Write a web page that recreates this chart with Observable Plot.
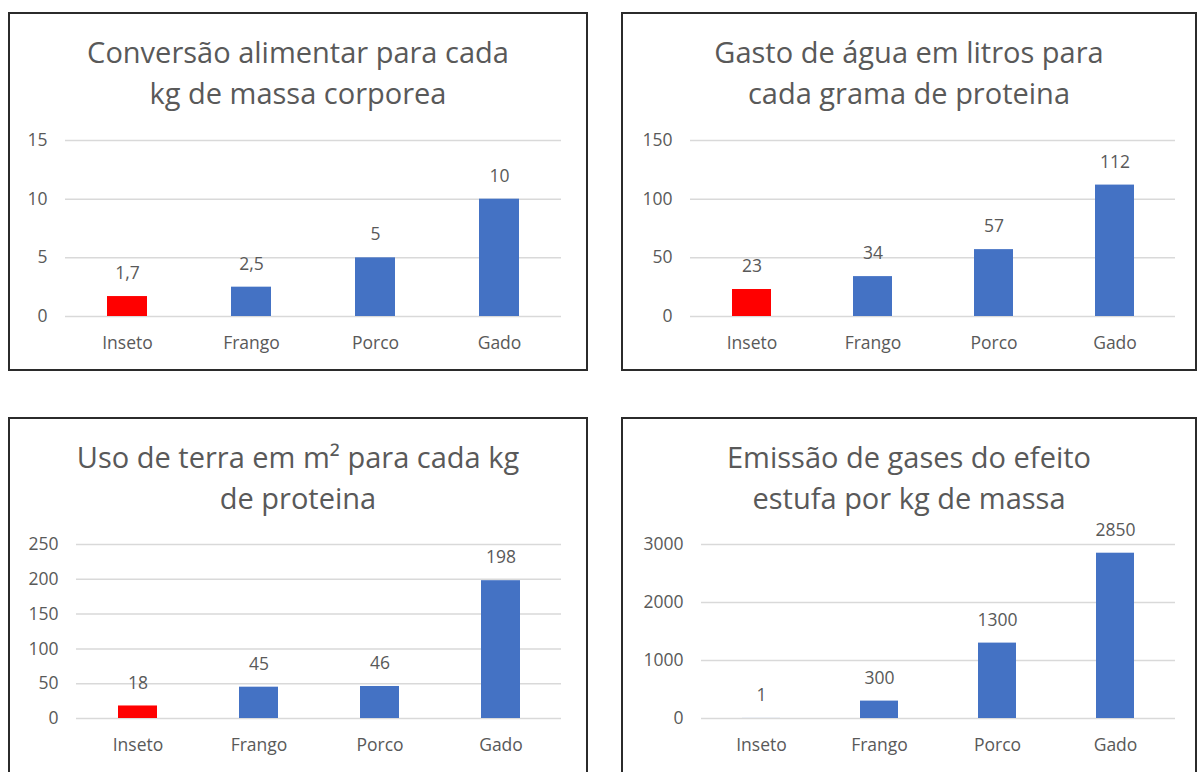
<!DOCTYPE html>
<html>
<head>
<meta charset="utf-8">
<script src="https://cdn.jsdelivr.net/npm/d3@7"></script>
<script src="https://cdn.jsdelivr.net/npm/@observablehq/plot@0.6"></script>
<style>
  html, body { margin: 0; padding: 0; background: #fff; }
  #root { position: relative; width: 1199px; height: 772px; overflow: hidden; background: #fff; font-family: "Open Sans", Lato, sans-serif; }
  .frame { position: absolute; border: 2px solid #2b2b2b; box-sizing: border-box; }
  .title { position: absolute; text-align: center; color: #595959; font-size: 29px; line-height: 41px; white-space: nowrap; }
  .plot { position: absolute; }
</style>
</head>
<body>
<div id="root"></div>
<script>
// ---- data ----
const categories = ["Inseto", "Frango", "Porco", "Gado"];
const conversao = [1.7, 2.5, 5, 10];
const agua = [23, 34, 57, 112];
const terra = [18, 45, 46, 198];
const emissao = [1, 300, 1300, 2850];
const ticksConversao = [0, 5, 10, 15];
const ticksAgua = [0, 50, 100, 150];
const ticksTerra = [0, 50, 100, 150, 200, 250];
const ticksEmissao = [0, 1000, 2000, 3000];
const titleConversao = ["Conversão alimentar para cada", "kg de massa corporea"];
const titleAgua = ["Gasto de água em litros para", "cada grama de proteina"];
const titleTerra = ["Uso de terra em m² para cada kg", "de proteina"];
const titleEmissao = ["Emissão de gases do efeito", "estufa por kg de massa"];
const highlightConversao = ["Inseto"];
const highlightAgua = ["Inseto"];
const highlightTerra = ["Inseto"];
const highlightEmissao = [];

const BLUE = "#4472C4", RED = "#FF0000", TEXT = "#595959", GRID = "#D9D9D9";
const FONT = "'Open Sans', Lato, sans-serif";

const panels = [
  {left: 8, top: 12, w: 580, h: 359, mL: 57, mR: 27, mT: 128, mB: 55, values: conversao, ticks: ticksConversao, title: titleConversao, hl: highlightConversao},
  {left: 621, top: 12, w: 576, h: 359, mL: 69, mR: 22, mT: 128, mB: 55, values: agua, ticks: ticksAgua, title: titleAgua, hl: highlightAgua},
  {left: 8, top: 417, w: 580, h: 360, mL: 68, mR: 27, mT: 127, mB: 59, values: terra, ticks: ticksTerra, title: titleTerra, hl: highlightTerra},
  {left: 621, top: 417, w: 576, h: 360, mL: 80, mR: 22, mT: 127, mB: 59, values: emissao, ticks: ticksEmissao, title: titleEmissao, hl: highlightEmissao}
];

const root = document.getElementById("root");
const fmt = v => String(v).replace(".", ",");

for (const p of panels) {
  const frame = document.createElement("div");
  frame.className = "frame";
  Object.assign(frame.style, {left: p.left + "px", top: p.top + "px", width: p.w + "px", height: p.h + "px"});
  root.appendChild(frame);

  const t = document.createElement("div");
  t.className = "title";
  Object.assign(t.style, {left: p.left + "px", top: (p.top + 19) + "px", width: p.w + "px"});
  t.innerHTML = p.title.join("<br>");
  root.appendChild(t);

  const data = categories.map((c, i) => ({cat: c, value: p.values[i], color: p.hl.includes(c) ? RED : BLUE}));

  const chart = Plot.plot({
    width: p.w, height: p.h,
    marginLeft: p.mL, marginRight: p.mR, marginTop: p.mT, marginBottom: p.mB,
    style: {fontFamily: FONT, fontSize: "17px", color: TEXT, background: "transparent", overflow: "visible"},
    x: {domain: categories, paddingInner: 0.68, paddingOuter: 0.34},
    y: {domain: [0, d3.max(p.ticks)]},
    color: {type: "identity"},
    marks: [
      Plot.gridY(p.ticks, {stroke: GRID, strokeOpacity: 1, strokeWidth: 1.5}),
      Plot.barY(data, {x: "cat", y: "value", fill: "color"}),
      Plot.text(data, {x: "cat", y: "value", text: d => fmt(d.value), dy: -23, fill: TEXT, fontSize: 17.5}),
      Plot.axisX({tickSize: 0, tickPadding: 20, label: null, fill: TEXT, fontSize: 17.5}),
      Plot.axisY(p.ticks, {tickSize: 0, tickPadding: 18, label: null, fill: TEXT, fontSize: 17.5, tickFormat: d => String(d)})
    ]
  });
  chart.classList.add("plot");
  Object.assign(chart.style, {left: p.left + "px", top: p.top + "px"});
  root.appendChild(chart);
}
</script>
</body>
</html>
